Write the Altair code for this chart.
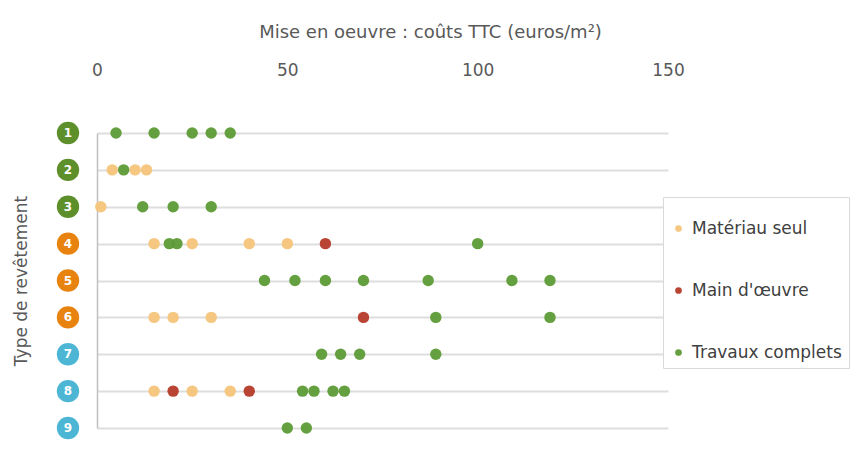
import altair as alt
import pandas as pd

# ---- data ----
types = ["1", "2", "3", "4", "5", "6", "7", "8", "9"]
type_colors = ["#5d8f2a", "#5d8f2a", "#5d8f2a",
               "#e8830f", "#e8830f", "#e8830f",
               "#4db6d5", "#4db6d5", "#4db6d5"]

series_names = ["Matériau seul", "Main d'œuvre", "Travaux complets"]
series_colors = ["#f4c47a", "#b63a29", "#5d9b36"]

materiau_types = ["2", "2", "2", "3", "4", "4", "4", "4", "6", "6", "6", "8", "8", "8"]
materiau_vals = [4, 10, 13, 1, 15, 25, 40, 50, 15, 20, 30, 15, 25, 35]

main_types = ["4", "6", "8", "8"]
main_vals = [60, 70, 20, 40]

travaux_types = ["1", "1", "1", "1", "1",
                 "2",
                 "3", "3", "3",
                 "4", "4", "4",
                 "5", "5", "5", "5", "5", "5", "5",
                 "6", "6",
                 "7", "7", "7", "7",
                 "8", "8", "8", "8",
                 "9", "9"]
travaux_vals = [5, 15, 25, 30, 35,
                7,
                12, 20, 30,
                19, 21, 100,
                44, 52, 60, 70, 87, 109, 119,
                89, 119,
                59, 64, 69, 89,
                54, 57, 62, 65,
                50, 55]

x_ticks = [0, 50, 100, 150]

# ---- tables ----
df = pd.concat([
    pd.DataFrame({"type": materiau_types, "cout": materiau_vals, "serie": series_names[0]}),
    pd.DataFrame({"type": main_types, "cout": main_vals, "serie": series_names[1]}),
    pd.DataFrame({"type": travaux_types, "cout": travaux_vals, "serie": series_names[2]}),
], ignore_index=True)
df["ordre"] = range(len(df))

labels_df = pd.DataFrame({"type": types, "couleur": type_colors})

FONT = "DejaVu Sans"
GREY = "#595959"

y_scale = alt.Scale(type="point", domain=types, range=[33, 328], padding=0)
y_axis = alt.Axis(
    labels=False, ticks=False, domain=True, domainColor="#bfbfbf", domainWidth=1.5,
    grid=True, gridColor="#dedede", gridWidth=2,
    title="Type de revêtement", titlePadding=67,
    titleFont=FONT, titleFontSize=17, titleFontWeight="normal", titleColor=GREY,
)

points = alt.Chart(df).mark_circle(size=130, opacity=0.95).encode(
    x=alt.X(
        "cout:Q",
        scale=alt.Scale(domain=[0, 150], nice=False),
        axis=alt.Axis(
            orient="top", values=x_ticks, grid=False, domain=False, ticks=False,
            labelFlush=False,
            labelPadding=21, labelFont=FONT, labelFontSize=17, labelColor=GREY,
            title="Mise en oeuvre : coûts TTC (euros/m²)", titlePadding=20,
            titleX=333,
            titleFont=FONT, titleFontSize=18, titleFontWeight="normal", titleColor=GREY,
        ),
    ),
    y=alt.Y("type:O", scale=y_scale, axis=y_axis),
    color=alt.Color(
        "serie:N",
        scale=alt.Scale(domain=series_names, range=series_colors),
        legend=alt.Legend(
            orient="none", legendX=566, legendY=97,
            title=" ", titleFontSize=12, titlePadding=4,
            padding=7, rowPadding=44,
            strokeColor="#d9d9d9", fillColor="white",
            labelFont=FONT, labelFontSize=17, labelColor="#404040", labelOffset=5,
            symbolType="circle", symbolSize=45, symbolStrokeWidth=0,
        ),
    ),
    order=alt.Order("ordre:Q"),
)

badges = alt.Chart(labels_df).mark_circle(size=500, opacity=1).encode(
    x=alt.value(-29),
    y=alt.Y("type:O", scale=y_scale, axis=y_axis),
    fill=alt.Fill("couleur:N", scale=None),
)

badge_text = alt.Chart(labels_df).mark_text(
    font=FONT, fontSize=12, fontWeight="bold", color="white", baseline="middle", align="center"
).encode(
    x=alt.value(-29),
    y=alt.Y("type:O", scale=y_scale, axis=y_axis),
    text="type:N",
)

chart = alt.layer(points, badges, badge_text).properties(
    width=571,
    height=331,
    autosize=alt.AutoSizeParams(type="none"),
    padding={"left": 89, "top": 92, "right": 184, "bottom": 10},
).configure_view(stroke=None)

chart.save("out.html", embed_options={"renderer": "svg", "actions": False})
